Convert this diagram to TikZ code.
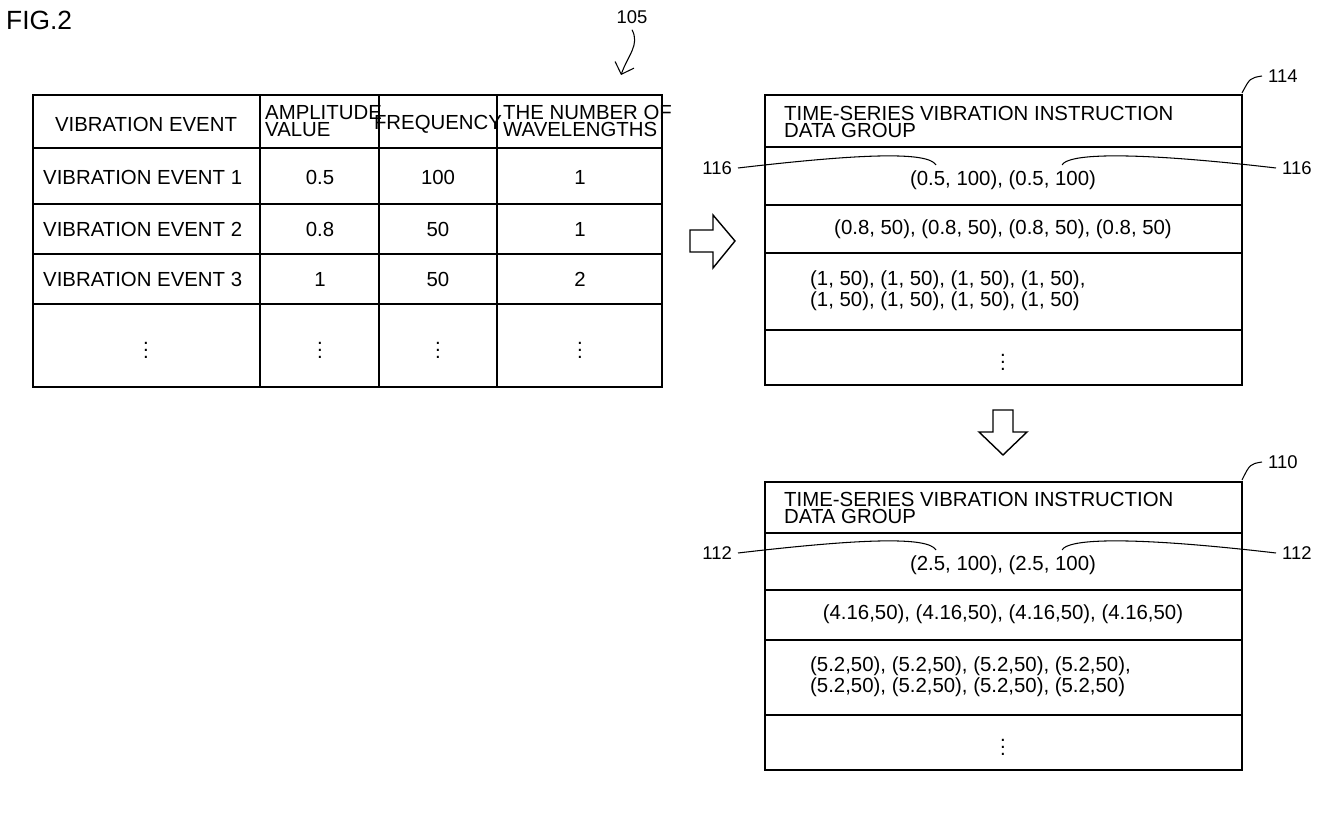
\documentclass[tikz,border=0pt]{standalone}
\usepackage{fontspec}
\setmainfont{Liberation Sans}
\usetikzlibrary{arrows.meta,calc}

\tikzset{
  cell/.style={font=\fontsize{11.6}{11}\selectfont},
  hd/.style={font=\fontsize{11.6}{10}\selectfont,align=left},
  lbl/.style={font=\fontsize{10.5}{10}\selectfont},
  grid line/.style={line width=0.8pt},
  fat arrow/.style={line width=0.8pt,line join=miter}
}

\begin{document}
\begin{tikzpicture}[x=0.02cm,y=-0.02cm]
\useasboundingbox (0,0) rectangle (1330,820);

\node[font=\fontsize{15}{15}\selectfont,anchor=west] (fig) at (0,20) {FIG.2};

% Vibration event table
\draw[grid line] (33,95) rectangle (662,387);
\foreach \y in {148,204,254,304} \draw[grid line] (33,\y) -- (662,\y);
\foreach \x in {260,379,497} \draw[grid line] (\x,95) -- (\x,387);
\node[cell] (h1) at (146,124) {VIBRATION EVENT};
\node[hd,anchor=west] (h2) at (259,121) {AMPLITUDE\\VALUE};
\node[cell] (h3) at (438,124) {FREQUENCY};
\node[hd,anchor=west] (h4) at (497,121) {THE NUMBER OF\\WAVELENGTHS};
\foreach \r/\y/\a/\f/\n in {1/177/0.5/100/1, 2/229/0.8/50/1, 3/279/1/50/2}{
  \node[cell,anchor=west] (ev\r) at (37,\y) {VIBRATION EVENT \r};
  \node[cell] (amp\r) at (320,\y) {\a};
  \node[cell] (frq\r) at (438,\y) {\f};
  \node[cell] (wav\r) at (580,\y) {\n};
}
\foreach \x [count=\i] in {146,320,438,580} \node[cell] (dots\i) at (\x,345) {$\vdots$};

% Right arrow
\draw[fat arrow] (690,230) -- (713,230) -- (713,215) -- (735,241) -- (713,268) -- (713,252) -- (690,252) -- cycle;

% Data group 114
\draw[grid line] (765,95) rectangle (1242,385);
\foreach \y in {147,205,253,330} \draw[grid line] (765,\y) -- (1242,\y);
\node[hd,anchor=west] (g1h) at (778,122) {TIME-SERIES VIBRATION INSTRUCTION\\DATA GROUP};
\node[cell] (g1r1) at (1003,180) {(0.5, 100), (0.5, 100)};
\node[cell] (g1r2) at (1003,229) {(0.8, 50), (0.8, 50), (0.8, 50), (0.8, 50)};
\node[hd,anchor=west] (g1r3) at (804,291) {(1, 50), (1, 50), (1, 50), (1, 50),\\(1, 50), (1, 50), (1, 50), (1, 50)};
\node[cell] (g1r4) at (1003,357) {$\vdots$};

% Down arrow
\draw[fat arrow] (993,410) -- (1013,410) -- (1013,432) -- (1027,432) -- (1003,455) -- (979,432) -- (993,432) -- cycle;

% Data group 110
\draw[grid line] (765,482) rectangle (1242,770);
\foreach \y in {533,590,640,715} \draw[grid line] (765,\y) -- (1242,\y);
\node[hd,anchor=west] (g2h) at (778,508) {TIME-SERIES VIBRATION INSTRUCTION\\DATA GROUP};
\node[cell] (g2r1) at (1003,565) {(2.5, 100), (2.5, 100)};
\node[cell] (g2r2) at (1003,614) {(4.16,50), (4.16,50), (4.16,50), (4.16,50)};
\node[hd,anchor=west] (g2r3) at (804,677) {(5.2,50), (5.2,50), (5.2,50), (5.2,50),\\(5.2,50), (5.2,50), (5.2,50), (5.2,50)};
\node[cell] (g2r4) at (1003,742) {$\vdots$};

% Reference labels
\node[lbl] (n105) at (632,17) {105};
\node[lbl,anchor=west] (n114) at (1262,76) {114};
\node[lbl,anchor=west] (n110) at (1262,462) {110};
\node[lbl,anchor=east] (n116a) at (738,168) {116};
\node[lbl,anchor=west] (n116b) at (1276,168) {116};
\node[lbl,anchor=east] (n112a) at (738,553) {112};
\node[lbl,anchor=west] (n112b) at (1276,553) {112};
\coordinate (c105) at (621,75);
\coordinate (c114) at (1242,93);
\coordinate (c110) at (1242,480);
\coordinate (c116a) at (936,165);
\coordinate (c116b) at (1062,165);
\coordinate (c112a) at (936,550);
\coordinate (c112b) at (1062,550);

\draw[-{Straight Barb[length=2mm]},line width=0.6pt] (n105.south) .. controls (640,45) and (628,55) .. (c105);
\draw[line width=0.6pt] (n114.west) .. controls (1250,78) .. (c114);
\draw[line width=0.6pt] (n110.west) .. controls (1250,464) .. (c110);
\foreach \k/\c in {n116a/c116a,n112a/c112a}
  \draw[line width=0.6pt] (\k.east) .. controls ($(\k.east)+(120,-14)$) and ($(\c)+(-8,-14)$) .. (\c);
\foreach \k/\c in {n116b/c116b,n112b/c112b}
  \draw[line width=0.6pt] (\k.west) .. controls ($(\k.west)+(-120,-14)$) and ($(\c)+(8,-14)$) .. (\c);
\end{tikzpicture}
\end{document}
